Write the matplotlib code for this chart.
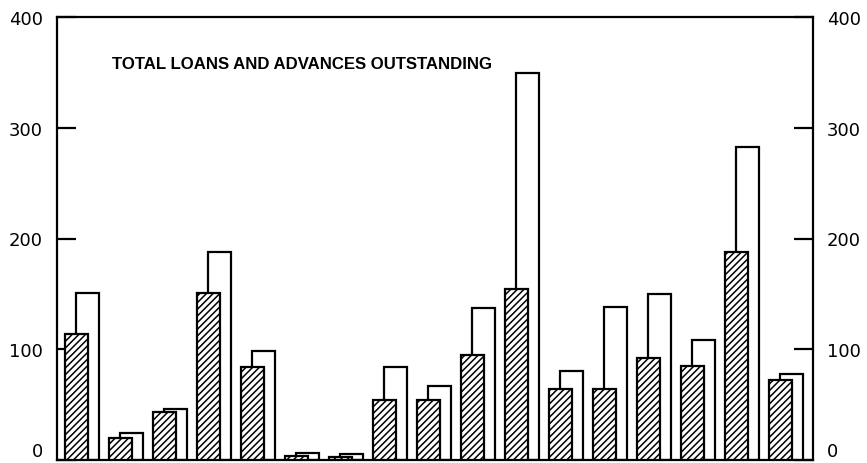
import matplotlib.pyplot as plt
import numpy as np

# values (units as on the axis)
hatched = [114, 20, 43, 151, 84, 4, 2.5, 54, 54, 95, 154, 64, 64, 92, 85, 188, 72]
total = [151, 24, 46, 188, 98, 6, 5, 84, 67, 137, 349, 80, 138, 150, 108, 283, 78]
yticks = [0, 100, 200, 300, 400]
title = "TOTAL LOANS AND ADVANCES OUTSTANDING"

plt.rcParams['hatch.linewidth'] = 1.1

fig = plt.figure(figsize=(8.67, 4.64), dpi=100)
ax = fig.add_axes([57 / 867, 3 / 464, 756 / 867, 443 / 464])

x = np.arange(len(hatched))
w = 0.52
# white (total) bars sit behind, shifted right
ax.bar(x + 0.25, total, width=w, align='edge', facecolor='white',
       edgecolor='black', linewidth=1.6, zorder=2)
ax.bar(x, hatched, width=w, align='edge', facecolor='white',
       edgecolor='black', hatch='/////', linewidth=1.6, zorder=3)

ax.set_xlim(-8 / 44, -8 / 44 + 756 / 44)
ax.set_ylim(0, 400)
ax.set_xticks([])
ax.set_yticks(yticks)
ax.tick_params(axis='y', direction='in', length=14, width=1.6,
               labelsize=13, pad=10, right=True, labelright=True)
# keep the 0 labels inside the picture
t0 = ax.yaxis.get_major_ticks()[0]
t0.label1.set_verticalalignment('bottom')
t0.label2.set_verticalalignment('bottom')
for s in ax.spines.values():
    s.set_linewidth(1.6)

ax.text(0.073, 0.895, title, transform=ax.transAxes, fontsize=12.1,
        family='Liberation Sans', fontweight='bold', va='center', ha='left')

fig.savefig("out.png", dpi=100)
